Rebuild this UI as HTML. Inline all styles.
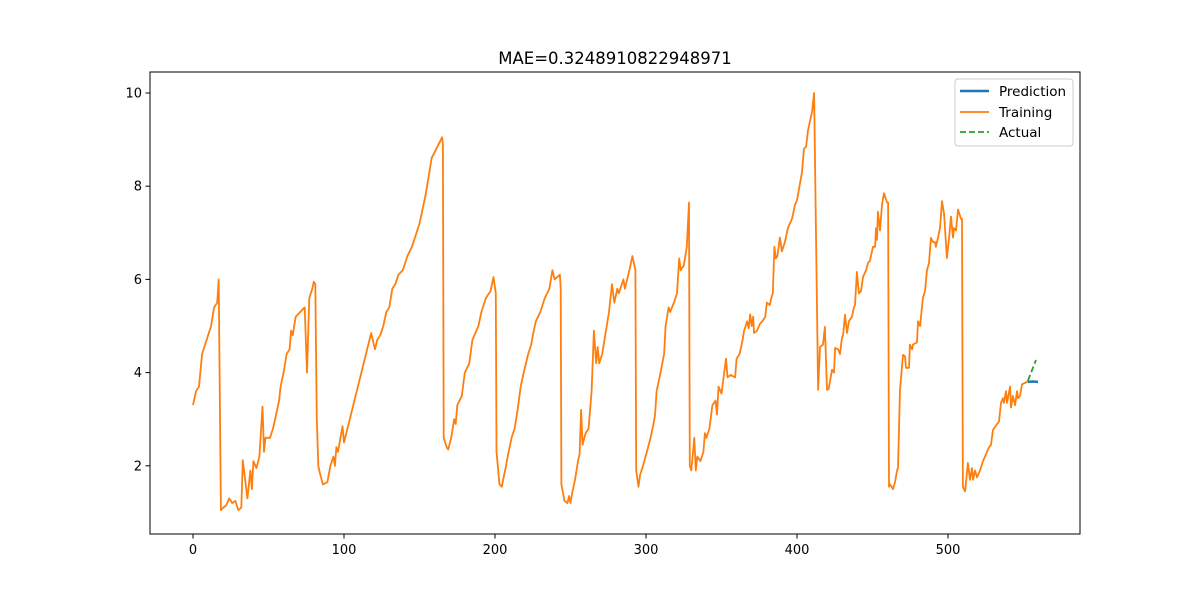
<!DOCTYPE html>
<html><head><meta charset="utf-8"><style>
body{margin:0;background:#fff;}
svg{display:block;font-family:"DejaVu Sans","Liberation Sans",sans-serif;}
</style></head><body>
<svg id="chart" width="1200" height="600" viewBox="0 0 1200 600">
<rect width="1200" height="600" fill="#fff"/>
<text x="615" y="64" text-anchor="middle" font-size="16.5">MAE=0.3248910822948971</text>
<g id="plot"></g>
<rect x="150" y="72" width="930" height="462" fill="none" stroke="#000" stroke-width="1"/>
<g id="xt"></g>
<g id="yt"></g>
<g>
<rect x="955" y="79" width="118" height="67" rx="3" fill="#fff" fill-opacity="0.8" stroke="#ccc"/>
<line x1="960" y1="91" x2="989" y2="91" stroke="#1f77b4" stroke-width="2.5"/>
<text x="999" y="96" font-size="13.5">Prediction</text>
<line x1="960" y1="112" x2="989" y2="112" stroke="#ff7f0e" stroke-width="1.8"/>
<text x="999" y="117" font-size="13.5">Training</text>
<line x1="960" y1="132" x2="989" y2="132" stroke="#2ca02c" stroke-width="1.8" stroke-dasharray="6,3"/>
<text x="999" y="137" font-size="13.5">Actual</text>
</g>
</svg>
<script>
const trainX=[0,2,4,6,8,10,12,14,16,17,18.5,20,22,24,26,28,30,32,33,36,38,39,40,42,44,46,47,48,51,53,55,57,58,60,62,64,65,66,68,71,74,75.5,77,79,80,81,82,83,84,86,89,91,93,94,95,96,99,100,118,120.5,122,124,126,128,130,132,134,136,139,142,145,147,150,152,154,156,158,165,165.5,166,168,169,171,173,174,175,178,180,183,185,189,191,194,197,199,200.5,201,203,204.5,206,207,209,211,213,215,217,219,222,224,225,227,230,233,236,238,239.5,243,243.5,244,246,248,249,250,251,253,255,256,257,258,260,262,264,265.5,267,268,269,271,273,275.5,277.5,279,281,282,285,286,289,291,293,293.5,295,296,298,301,303,305,306,307,309,312,313,315,316,318.5,320.5,322,323,325,327,328.5,329,330,332,333,334,336,338,339,340,342,344,346,347,348,350,353,354,356,359,360,362,364,365,367,368,369,370,371,371.5,373.5,375.5,377,379,380,382,383,384,385,386,387,388.7,390,392,394,396.7,398.7,400,403.3,404.6,406,407.3,410,411.3,414,415.2,417.2,418.5,419.9,421,423.2,424.5,425.2,427.2,428.5,429.8,430.5,431.8,433.1,434.4,436.4,437.7,438.4,439.7,441,442.4,443.7,445.7,447,448.3,450.3,451.7,452.3,453,453.6,455,456.3,457.6,459.6,460.3,460.9,461.6,463.6,464.9,466.2,466.9,468.2,470.2,471.5,472.2,474.2,474.8,476.2,476.8,479.5,480.1,481.5,483.4,484.8,486.1,487.4,488.7,490.1,491.4,492,493.4,494.7,496,497.4,499.3,500.7,502,503.3,504,505.3,506.6,508.6,509.3,509.9,511.3,513.2,514.6,515.9,516.6,517.9,519.2,521.2,523.2,525.8,527.2,528.5,529.8,532.5,533.8,535.1,536.4,537.1,538.4,539.1,541.1,541.7,543,544.4,545.7,546.4,547.7,549,552.3,553];
const trainY=[3.3,3.6,3.7,4.4,4.6,4.8,5.0,5.4,5.5,6.0,1.05,1.1,1.15,1.3,1.2,1.25,1.05,1.1,2.12,1.3,1.9,1.5,2.1,1.95,2.2,3.27,2.3,2.6,2.6,2.8,3.1,3.4,3.7,4.0,4.4,4.5,4.9,4.8,5.2,5.3,5.4,4.0,5.6,5.8,5.95,5.9,3.0,2.0,1.85,1.6,1.65,2.0,2.2,2.0,2.4,2.3,2.85,2.5,4.85,4.5,4.7,4.8,5.0,5.3,5.4,5.8,5.9,6.1,6.2,6.5,6.7,6.9,7.2,7.5,7.8,8.2,8.6,9.05,8.9,2.6,2.4,2.35,2.6,3.0,2.9,3.3,3.5,4.0,4.2,4.7,5.0,5.3,5.6,5.75,6.05,5.7,2.3,1.6,1.55,1.8,1.95,2.3,2.6,2.8,3.2,3.7,4.0,4.4,4.6,4.8,5.1,5.3,5.6,5.8,6.2,6.0,6.1,5.8,1.6,1.25,1.2,1.35,1.2,1.4,1.7,2.1,2.25,3.2,2.45,2.7,2.8,3.6,4.9,4.2,4.55,4.2,4.4,4.8,5.3,5.9,5.5,5.8,5.7,6.0,5.8,6.2,6.5,6.2,1.9,1.55,1.8,2.0,2.35,2.6,2.9,3.1,3.6,3.9,4.4,5.0,5.4,5.3,5.5,5.7,6.45,6.2,6.3,6.7,7.65,2.0,1.9,2.6,1.9,2.2,2.1,2.3,2.7,2.6,2.8,3.3,3.4,3.1,3.7,3.55,4.3,3.9,3.95,3.9,4.3,4.4,4.7,4.9,5.1,4.95,5.25,5.0,5.2,4.85,4.9,5.05,5.1,5.2,5.5,5.45,5.6,5.7,6.7,6.45,6.5,6.9,6.6,6.8,7.1,7.3,7.6,7.7,8.3,8.8,8.85,9.2,9.6,10.0,3.63,4.55,4.6,4.98,3.63,3.65,4.06,4.0,4.53,4.5,4.4,4.75,4.8,5.24,4.85,5.1,5.2,5.4,5.45,6.16,5.7,5.75,6.05,6.2,6.35,6.4,6.7,6.7,7.1,6.85,7.45,7.05,7.6,7.85,7.65,7.65,1.55,1.6,1.5,1.65,1.9,1.95,3.63,4.38,4.35,4.1,4.1,4.6,4.5,4.6,4.65,5.1,5.0,5.6,5.75,6.2,6.35,6.89,6.8,6.8,6.7,6.9,7.1,7.68,7.4,6.46,6.9,7.35,6.9,7.1,7.05,7.5,7.3,7.3,1.55,1.45,2.06,1.7,1.95,1.7,1.9,1.75,1.9,2.1,2.3,2.4,2.45,2.77,2.9,2.95,3.35,3.45,3.35,3.6,3.35,3.7,3.25,3.5,3.3,3.6,3.45,3.5,3.75,3.8,3.83];
const predX=[553,556,559.6];
const predY=[3.8,3.81,3.8];
const actX=[553,558.3];
const actY=[3.83,4.27];
const xTicks=[0,100,200,300,400,500];
const yTicks=[2,4,6,8,10];
const NS='http://www.w3.org/2000/svg';
function sx(v){return 193+v*1.51;}
function sy(v){return 559-v*46.6;}
function mk(t,a,p){const e=document.createElementNS(NS,t);for(const k in a)e.setAttribute(k,a[k]);p.appendChild(e);return e;}
const plot=document.getElementById('plot');
function line(xs,ys,color,w,dash,name){
  const pts=xs.map((x,i)=>sx(x).toFixed(1)+','+sy(ys[i]).toFixed(1)).join(' ');
  const pl=mk('polyline',{points:pts,fill:'none',stroke:color,'stroke-width':w,'stroke-linejoin':'round'},plot);
  if(dash)pl.setAttribute('stroke-dasharray',dash);
  
  
}
line(trainX,trainY,'#ff7f0e',1.8,null,'training-line');
line(predX,predY,'#1f77b4',2.5,null,'prediction-line');
line(actX,actY,'#2ca02c',1.8,'6,3','actual-line');
const xt=document.getElementById('xt');
xTicks.forEach(v=>{
  const l=mk('line',{x1:sx(v),x2:sx(v),y1:534,y2:538.5,stroke:'#000'},xt);
  
  
  const t=mk('text',{x:sx(v),y:554,'text-anchor':'middle','font-size':'13'},xt);
  t.textContent=v;
  
  
});
const yt=document.getElementById('yt');
yTicks.forEach(v=>{
  const l=mk('line',{x1:145.5,x2:150,y1:sy(v),y2:sy(v),stroke:'#000'},yt);
  
  
  const t=mk('text',{x:142,y:sy(v)+4.5,'text-anchor':'end','font-size':'13'},yt);
  t.textContent=v;
  
  
});
</script>
</body></html>
